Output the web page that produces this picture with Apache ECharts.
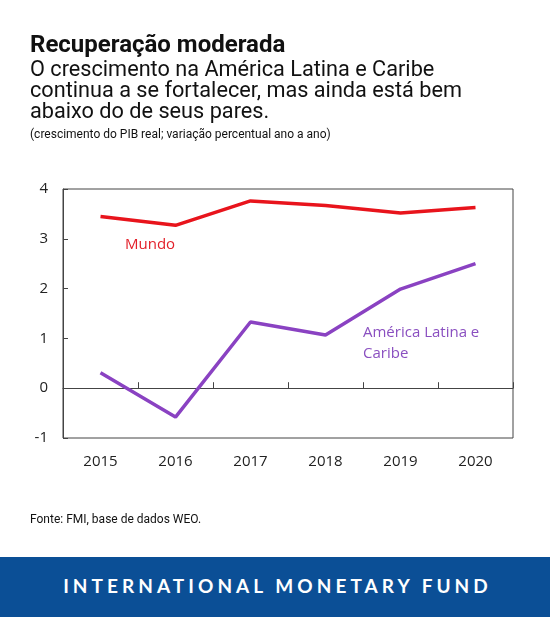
<!DOCTYPE html>
<html><head><meta charset="utf-8">
<script src="https://cdn.jsdelivr.net/npm/echarts@6/dist/echarts.min.js"></script>
<style>
html,body{margin:0;padding:0;background:#fff;}
#wrap{position:relative;width:550px;height:617px;overflow:hidden;font-family:Roboto,sans-serif;color:#111;}
#chart{position:absolute;left:0;top:0;width:550px;height:617px;}
.t{position:absolute;left:30px;white-space:nowrap;}
#title{top:32.4px;font-size:24px;line-height:24px;font-weight:700;}
#sub{top:58px;font-size:21.7px;line-height:21.2px;}
#note{top:126.7px;font-size:12px;line-height:15px;}
#src{top:510.6px;font-size:12px;line-height:16px;}
#band{position:absolute;left:0;top:557px;width:550px;height:60px;background:#0b4f96;}
#imf{position:absolute;left:0;width:550px;top:0;height:58px;line-height:58px;text-align:center;color:#fff;font-family:Lato,"Open Sans",sans-serif;font-weight:700;font-size:19px;letter-spacing:4.05px;padding-left:5px;box-sizing:border-box;}
</style></head>
<body><div id="wrap">
<div id="chart"></div>
<div class="t" id="title">Recuperação moderada</div>
<div class="t" id="sub">O crescimento na América Latina e Caribe<br>continua a se fortalecer, mas ainda está bem<br>abaixo do de seus pares.</div>
<div class="t" id="note">(crescimento do PIB real; variação percentual ano a ano)</div>
<div class="t" id="src">Fonte: FMI, base de dados WEO.</div>
<div id="band"><div id="imf">INTERNATIONAL MONETARY FUND</div></div>
</div>
<script>
const years = ['2015','2016','2017','2018','2019','2020'];
const mundo = [3.45, 3.27, 3.76, 3.67, 3.52, 3.63];
const americaLatina = [0.31, -0.58, 1.33, 1.07, 1.99, 2.50];
const yTicks = [-1, 0, 1, 2, 3, 4];

const chart = echarts.init(document.getElementById('chart'), null, {renderer:'canvas'});
const axisFont = '"Open Sans","Noto Sans",sans-serif';
chart.setOption({
  animation:false,
  grid:{left:63, right:37, top:189, bottom:179, show:true, borderColor:'#444', borderWidth:1, backgroundColor:'transparent'},
  xAxis:[
    {type:'category', data:years, position:'bottom', boundaryGap:true,
     axisLine:{show:false, onZero:false}, axisTick:{show:false},
     axisLabel:{color:'#222', fontSize:15, margin:16, fontFamily:axisFont}},
    {type:'category', data:years, position:'top', boundaryGap:true,
     axisLine:{show:true, onZero:true, lineStyle:{color:'#444', width:1}},
     axisTick:{show:true, inside:false, length:6, lineStyle:{color:'#444'}},
     axisLabel:{show:false}}
  ],
  yAxis:{type:'value', min:yTicks[0], max:yTicks[yTicks.length-1], interval:1,
    axisLine:{show:true, lineStyle:{color:'#444'}},
    axisTick:{show:true, inside:true, length:5, lineStyle:{color:'#444'}},
    splitLine:{show:false},
    axisLabel:{color:'#222', fontSize:15, margin:15, fontFamily:axisFont}},
  series:[
    {name:'Mundo', type:'line', data:mundo, xAxisIndex:0, symbol:'none',
     lineStyle:{color:'#e8141c', width:3.5}},
    {name:'América Latina e Caribe', type:'line', data:americaLatina, xAxisIndex:0, symbol:'none',
     lineStyle:{color:'#8a42c2', width:3.5}}
  ],
  graphic:[
    {type:'text', left:125, top:237, style:{text:'Mundo', fill:'#e3202a', font:'15px '+axisFont}},
    {type:'text', left:363, top:322, style:{text:'América Latina e\nCaribe', fill:'#8a4fc0', font:'15px '+axisFont, lineHeight:21}}
  ]
});
</script>
</body></html>
